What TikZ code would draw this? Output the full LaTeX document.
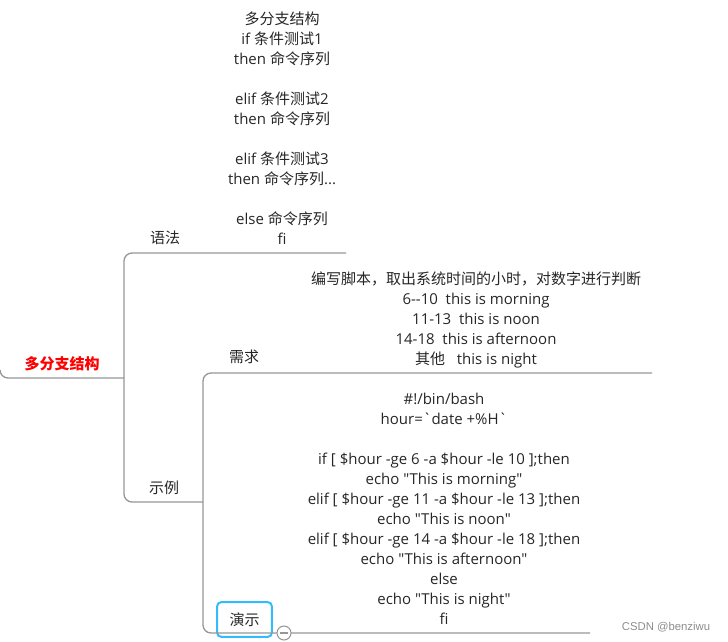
\documentclass[tikz,border=0pt]{standalone}
\usepackage{fontspec}
\setmainfont{Open Sans}[Ligatures=TeXOff]
\newfontfamily\cjk{Noto Sans CJK SC}
\newfontfamily\marcafont{Liberation Sans}
\usetikzlibrary{positioning, calc}
\definecolor{ramo}{RGB}{150,150,150}
\definecolor{selecao}{RGB}{51,187,255}
\definecolor{raiz}{RGB}{255,0,0}

\begin{document}
\begin{tikzpicture}[x=0.75pt, y=-0.75pt,
    txt/.style={align=center, inner sep=0pt, text=black!85, font=\fontsize{11.25}{15}\selectfont},
    ramo/.style={draw=ramo, line width=1pt, rounded corners=6pt}]
    \useasboundingbox (0,0) rectangle (728,642);
    \node[txt, text=raiz, font=\cjk\bfseries\fontsize{11.25}{15}\selectfont] (raiz) at (62,364) {多分支结构};
    \node[txt, font=\cjk\fontsize{11.25}{15}\selectfont] (sintaxe) at (165,238) {语法};
    \node[txt, font=\cjk\fontsize{11.25}{15}\selectfont] (exemplo) at (164,488) {示例};
    \node[txt, font=\cjk\fontsize{11.25}{15}\selectfont] (requisito) at (244,357) {需求};
    \node[txt, font=\cjk\fontsize{11.25}{15}\selectfont, draw=selecao, line width=1.5pt,
          rounded corners=3pt, minimum width=41pt, minimum height=26pt] (demo) at (244.5,619.5) {演示};
    % textos das folhas
    \node[txt] (sintaxetxt) at (282,128) {{\cjk 多分支结构}\\if {\cjk 条件测试}1\\then {\cjk 命令序列}\\[15pt]
        elif {\cjk 条件测试}2\\then {\cjk 命令序列}\\[15pt]
        elif {\cjk 条件测试}3\\then {\cjk 命令序列}...\\[15pt]
        else {\cjk 命令序列}\\fi};
    \node[txt] (requisitotxt) at (476,320) {{\cjk 编写脚本，取出系统时间的小时，对数字进行判断}\\
        6--10\ \ this is morning\\11-13\ \ this is noon\\14-18\ \ this is afternoon\\
        {\cjk 其他}\ \ \ this is night};
    \node[txt] (demotxt) at (444,508.5) {\#!/bin/bash\\hour=\textasciigrave date +\%H\textasciigrave\\[15pt]
        if [ \$hour -ge 6 -a \$hour -le 10 ];then\\echo "This is morning"\\
        elif [ \$hour -ge 11 -a \$hour -le 13 ];then\\echo "This is noon"\\
        elif [ \$hour -ge 14 -a \$hour -le 18 ];then\\echo "This is afternoon"\\
        else\\echo "This is night"\\fi};
    % ramos
    \coordinate (r0) at (0,370);
    \coordinate (j1) at (124,378);
    \coordinate (e1) at (346,253);
    \coordinate (j2) at (203,502);
    \coordinate (e2) at (652,373);
    \coordinate (e3) at (590,633);
    \draw[ramo] (r0) |- (j1);
    \draw[ramo] (e1) -| (j1) |- (j2);
    \draw[ramo] (e2) -| (j2) |- (e3);
    \node[circle, draw=ramo, fill=white, line width=0.8pt, inner sep=0pt, minimum size=10.5pt] (dobra) at (284,633) {};
    \draw[ramo, line width=0.8pt] ($(dobra.center)+(-4,0)$) -- ($(dobra.center)+(4,0)$);
    \node[font=\marcafont\fontsize{8.5}{10}\selectfont, text=black!45] (marca) at (666,627) {CSDN @benziwu};
\end{tikzpicture}
\end{document}
